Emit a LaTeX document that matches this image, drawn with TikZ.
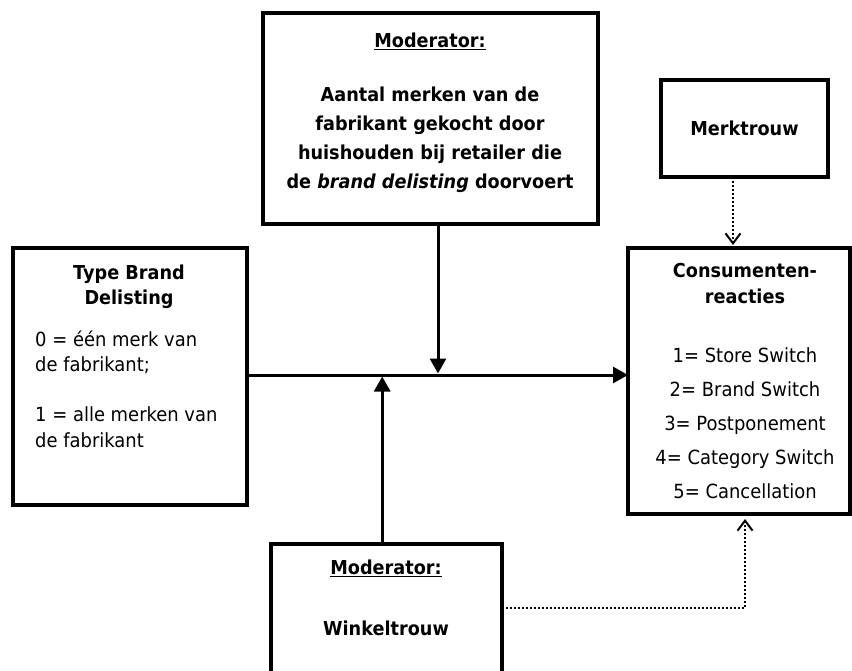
\documentclass[tikz,border=0pt]{standalone}
\usepackage{fontspec}
\setmainfont{DejaVu Sans}[FakeStretch=0.92]
\usetikzlibrary{positioning,arrows.meta}

\begin{document}
\begin{tikzpicture}[x=1pt, y=-1pt,
    box/.style={draw, line width=4pt, inner sep=0, outer sep=0},
    lbl/.style={inner sep=0, align=center, font=\fontsize{19.5}{25.5}\selectfont},
    head/.style={lbl, font=\fontsize{19.2}{25.5}\selectfont\bfseries},
    flow/.style={line width=3pt, -{Triangle[length=15pt,width=16pt]}},
    dep/.style={line width=2pt, dash pattern=on 2pt off 2pt, -{Straight Barb[length=10pt,width=15pt]}}]

    \useasboundingbox (0,0) rectangle (852,671);
    \clip (0,0) rectangle (852,671);

    % Boxes
    \node[box, minimum width=335pt, minimum height=211pt] (modtop) at (430.5,118.5) {};
    \node[box, minimum width=167pt, minimum height=97pt, font=\fontsize{19.2}{25.5}\selectfont\bfseries] (merk) at (744.5,128.5) {Merktrouw};
    \node[box, minimum width=234pt, minimum height=257pt] (typebox) at (130,376.5) {};
    \node[box, minimum width=222pt, minimum height=266pt] (reacties) at (739,381) {};
    \node[box, minimum width=231pt, minimum height=156pt] (winkel) at (386.2,622) {};

    % Texts
    \node[head, anchor=north] (modhead) at (430,32.4) {\underline{Moderator:}};
    \node[head, anchor=north, font=\fontsize{19.2}{29}\selectfont\bfseries] (modtext) at (430,86.4)
        {Aantal merken van de\\ fabrikant gekocht door\\ huishouden bij retailer die\\ de \textit{brand delisting} doorvoert};
    \node[head, anchor=north] (typehead) at (129,264.4) {Type Brand\\ Delisting};
    \node[lbl, align=left, anchor=north west] (typetext) at (35,330.4)
        {0 = één merk van\\ de fabrikant;\\[24.5pt] 1 = alle merken van\\ de fabrikant};
    \node[head, anchor=north, font=\fontsize{19.2}{26}\selectfont\bfseries] (reachead) at (745,263.4) {Consumenten-\\ reacties};
    \node[lbl, anchor=north, font=\fontsize{19.5}{34}\selectfont] (reactext) at (745,347.2)
        {1= Store Switch\\ 2= Brand Switch\\ 3= Postponement\\ 4= Category Switch\\ 5= Cancellation};
    \node[head, anchor=north] (winkhead) at (386,559.4) {\underline{Moderator:}};
    \node[head, anchor=north] (winktext) at (386,620.4) {Winkeltrouw};

    % Connectors
    \coordinate (main) at ([yshift=1.5pt]typebox.east);
    \draw[flow] (main) -- (main -| reacties.west);
    \coordinate (drop) at ([xshift=7.5pt]modtop.south);
    \draw[flow, shorten >=1.5pt] (drop) -- (drop |- main);
    \coordinate (rise) at ([xshift=-4pt]winkel.north);
    \draw[flow, shorten >=1.5pt] (rise) -- (rise |- main);
    \coordinate (merkout) at ([xshift=-11.5pt]merk.south);
    \draw[dep, shorten >=3pt] (merkout) -- (merkout |- reacties.north);
    \coordinate (winkout) at ([yshift=14pt]winkel.east);
    \coordinate (reacin) at ([xshift=6pt]reacties.south);
    \draw[dep, shorten >=5pt] (winkout) -| (reacin);
\end{tikzpicture}
\end{document}
